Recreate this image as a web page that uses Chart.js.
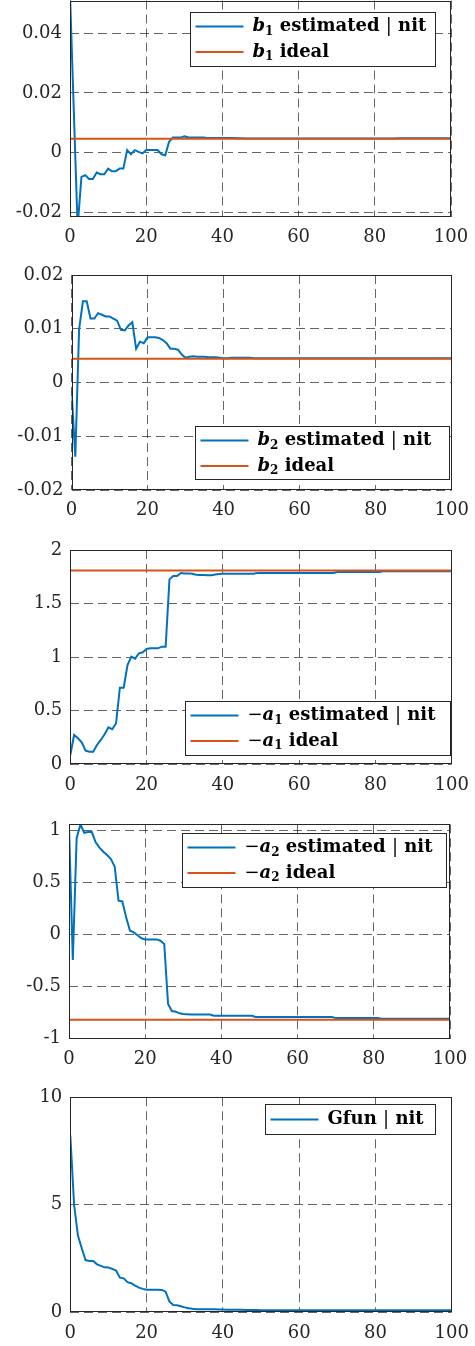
<!DOCTYPE html>
<html>
<head>
<meta charset="utf-8">
<script src="https://cdn.jsdelivr.net/npm/chart.js@4"></script>
<style>
  html, body { margin: 0; padding: 0; background: #fff; overflow: hidden; }
  #page { position: relative; width: 475px; height: 1346px; overflow: hidden; background: #fff; }
  #page canvas { position: absolute; left: 0; }
</style>
</head>
<body>
<div id="page"></div>
<script>
// ---------- data (one value per iteration, nit = 0..100) ----------
const nitTicks = [0, 20, 40, 60, 80, 100];

const b1Est = [
  0.053, 0.014, -0.025, -0.0082, -0.0076, -0.0089, -0.0089, -0.0067, -0.0073, -0.0073,
  -0.0054, -0.0063, -0.0063, -0.0054, -0.0054, 0.0008, -0.0006, 0.0008, 0.0002, -0.0003,
  0.0008, 0.0008, 0.0008, 0.0008, -0.0006, -0.0009, 0.0036, 0.0050, 0.0050, 0.0050,
  0.0054, 0.0051, 0.0050, 0.0050, 0.0050, 0.0050, 0.0049, 0.0049, 0.0049, 0.0049,
  0.0049, 0.0049, 0.0049, 0.0049, 0.0048, 0.0048, 0.0047, 0.0047, 0.0047, 0.0047,
  0.0047, 0.0047, 0.0047, 0.0047, 0.0047, 0.0047, 0.0047, 0.0047, 0.0047, 0.0047,
  0.0047, 0.0047, 0.0047, 0.0047, 0.0047, 0.0047, 0.0047, 0.0047, 0.0047, 0.0047,
  0.0047, 0.0047, 0.0047, 0.0047, 0.0047, 0.0047, 0.0047, 0.0047, 0.0047, 0.0047,
  0.0047, 0.0047, 0.0047, 0.0047, 0.0047, 0.0047, 0.0048, 0.0048, 0.0048, 0.0048,
  0.0048, 0.0048, 0.0048, 0.0048, 0.0048, 0.0048, 0.0048, 0.0048, 0.0048, 0.0048,
  0.0048
];
const b1Ideal = 0.0046;
const b1Ticks = [-0.02, 0, 0.02, 0.04];
const b1Labels = ['b_1 estimated | nit', 'b_1 ideal'];

const b2Est = [
  -0.0013, -0.0138, 0.0099, 0.0151, 0.0151, 0.0119, 0.0119, 0.0129, 0.0126, 0.0123,
  0.0123, 0.0119, 0.0115, 0.0098, 0.0097, 0.0106, 0.0112, 0.0063, 0.0076, 0.0073,
  0.0084, 0.0084, 0.0084, 0.0083, 0.0079, 0.0073, 0.0063, 0.0063, 0.0061, 0.0052,
  0.0046, 0.0048, 0.0049, 0.0048, 0.0048, 0.0048, 0.0047, 0.0047, 0.0047, 0.0046,
  0.0045, 0.0045, 0.0046, 0.0046, 0.0046, 0.0046, 0.0046, 0.0046, 0.0045, 0.0045,
  0.0045, 0.0045, 0.0045, 0.0045, 0.0045, 0.0045, 0.0045, 0.0045, 0.0045, 0.0045,
  0.0045, 0.0045, 0.0045, 0.0045, 0.0045, 0.0045, 0.0045, 0.0045, 0.0045, 0.0045,
  0.0045, 0.0045, 0.0045, 0.0045, 0.0045, 0.0045, 0.0045, 0.0045, 0.0045, 0.0045,
  0.0045, 0.0045, 0.0045, 0.0045, 0.0045, 0.0045, 0.0045, 0.0045, 0.0045, 0.0045,
  0.0045, 0.0045, 0.0045, 0.0045, 0.0045, 0.0045, 0.0045, 0.0045, 0.0045, 0.0045,
  0.0045
];
const b2Ideal = 0.0044;
const b2Ticks = [-0.02, -0.01, 0, 0.01, 0.02];
const b2Labels = ['b_2 estimated | nit', 'b_2 ideal'];

const a1Est = [
  0.087, 0.274, 0.243, 0.205, 0.128, 0.118, 0.118, 0.180, 0.227, 0.280,
  0.345, 0.327, 0.383, 0.715, 0.715, 0.927, 1.005, 0.986, 1.036, 1.045,
  1.076, 1.082, 1.082, 1.082, 1.098, 1.098, 1.726, 1.757, 1.757, 1.785,
  1.780, 1.780, 1.779, 1.770, 1.766, 1.766, 1.765, 1.765, 1.772, 1.777,
  1.778, 1.778, 1.778, 1.778, 1.778, 1.778, 1.778, 1.778, 1.778, 1.786,
  1.786, 1.786, 1.786, 1.786, 1.786, 1.786, 1.786, 1.786, 1.786, 1.786,
  1.786, 1.786, 1.786, 1.786, 1.786, 1.786, 1.786, 1.786, 1.786, 1.786,
  1.795, 1.795, 1.795, 1.795, 1.795, 1.795, 1.795, 1.795, 1.795, 1.795,
  1.795, 1.795, 1.801, 1.801, 1.801, 1.801, 1.801, 1.801, 1.801, 1.801,
  1.801, 1.801, 1.801, 1.801, 1.801, 1.801, 1.801, 1.801, 1.801, 1.801,
  1.801
];
const a1Ideal = 1.809;
const a1Ticks = [0, 0.5, 1, 1.5, 2];
const a1Labels = ['−a_1 estimated | nit', '−a_1 ideal'];

const a2Est = [
  1.04, -0.244, 0.926, 1.06, 0.98, 0.987, 0.987, 0.888, 0.837, 0.798,
  0.766, 0.728, 0.654, 0.327, 0.320, 0.167, 0.038, 0.022, -0.006, -0.035,
  -0.045, -0.045, -0.045, -0.045, -0.058, -0.090, -0.667, -0.734, -0.740, -0.756,
  -0.763, -0.765, -0.768, -0.768, -0.768, -0.768, -0.768, -0.768, -0.780, -0.780,
  -0.780, -0.780, -0.780, -0.780, -0.780, -0.780, -0.780, -0.780, -0.780, -0.792,
  -0.792, -0.792, -0.792, -0.792, -0.792, -0.792, -0.792, -0.792, -0.792, -0.792,
  -0.792, -0.792, -0.792, -0.792, -0.792, -0.792, -0.792, -0.792, -0.792, -0.792,
  -0.802, -0.802, -0.802, -0.802, -0.802, -0.802, -0.802, -0.802, -0.802, -0.802,
  -0.802, -0.802, -0.807, -0.807, -0.807, -0.807, -0.807, -0.807, -0.807, -0.807,
  -0.807, -0.807, -0.807, -0.807, -0.807, -0.807, -0.807, -0.807, -0.807, -0.807,
  -0.807
];
const a2Ideal = -0.817;
const a2Ticks = [-1, -0.5, 0, 0.5, 1];
const a2Labels = ['−a_2 estimated | nit', '−a_2 ideal'];

const gfun = [
  8.22, 4.99, 3.57, 2.98, 2.43, 2.39, 2.39, 2.23, 2.16, 2.09,
  2.08, 2.02, 1.94, 1.61, 1.58, 1.40, 1.35, 1.24, 1.15, 1.09,
  1.05, 1.05, 1.05, 1.05, 1.04, 0.96, 0.50, 0.34, 0.33, 0.28,
  0.23, 0.19, 0.16, 0.14, 0.14, 0.14, 0.14, 0.14, 0.14, 0.13,
  0.13, 0.12, 0.12, 0.12, 0.12, 0.12, 0.11, 0.11, 0.11, 0.11,
  0.10, 0.10, 0.10, 0.10, 0.10, 0.10, 0.10, 0.10, 0.10, 0.10,
  0.10, 0.10, 0.10, 0.10, 0.10, 0.10, 0.10, 0.10, 0.10, 0.10,
  0.10, 0.10, 0.10, 0.10, 0.10, 0.10, 0.10, 0.10, 0.10, 0.10,
  0.10, 0.10, 0.10, 0.10, 0.10, 0.10, 0.10, 0.10, 0.10, 0.10,
  0.10, 0.10, 0.10, 0.10, 0.10, 0.10, 0.10, 0.10, 0.10, 0.10,
  0.10
];
const gTicks = [0, 5, 10];
const gLabels = ['Gfun | nit'];

// ---------- style ----------
const BLUE = '#0072BD';
const ORANGE = '#D95319';
const AXIS = '#262626';
const GRID = 'rgba(0,0,0,0.6)';
const FONT = '"DejaVu Serif"';
const CANVAS_W = 540;   // wider than the page so tick labels never squeeze the plot box

// plot box [left, right, top, bottom] in page px, legend box [x, y, w, h] relative to plot box
const panels = [
  { est: b1Est, ideal: b1Ideal, ticks: b1Ticks, labels: b1Labels, ymin: -0.02154, ymax: 0.0510,
    box: [70, 451, 0.5, 216.7], legend: [120, 11, 245, 54] },
  { est: b2Est, ideal: b2Ideal, ticks: b2Ticks, labels: b2Labels, ymin: -0.02, ymax: 0.02,
    box: [71.5, 451.7, 275, 490], legend: [123, 151, 254, 53] },
  { est: a1Est, ideal: a1Ideal, ticks: a1Ticks, labels: a1Labels, ymin: 0, ymax: 2,
    box: [70.3, 451.7, 550, 764.3], legend: [115, 151, 265, 53.5] },
  { est: a2Est, ideal: a2Ideal, ticks: a2Ticks, labels: a2Labels, ymin: -1, ymax: 1.0615,
    box: [69, 450, 824.3, 1038.7], legend: [113, 8.5, 264, 54] },
  { est: gfun, ideal: null, ticks: gTicks, labels: gLabels, ymin: 0, ymax: 10,
    box: [70.3, 451.7, 1097.3, 1312.3], legend: [195, 7, 169.5, 30] }
];

// ---------- legend text: "b_1" -> bold italic b with subscript 1 ----------
function richParts(label) {
  const parts = [];
  const push = (t, font, dy) => {
    const last = parts[parts.length - 1];
    if (last && last.font === font && last.dy === dy) last.t += t;
    else parts.push({ t, font, dy });
  };
  for (let i = 0; i < label.length; i++) {
    const c = label[i];
    if (label[i + 1] === '_') {
      push(c, 'italic bold 18px ' + FONT, 0);
      push(label[i + 2], 'bold 12px ' + FONT, 5);
      i += 2;
    } else if (c === '−' || c === '|') {
      push(c, '18px ' + FONT, 0);
    } else {
      push(c, 'bold 18px ' + FONT, 0);
    }
  }
  return parts;
}

function drawRich(ctx, label, x, cy) {
  ctx.textBaseline = 'middle';
  ctx.textAlign = 'left';
  ctx.fillStyle = '#000';
  richParts(label).forEach(p => {
    ctx.font = p.font;
    ctx.fillText(p.t, x, cy + p.dy);
    x += ctx.measureText(p.t).width;
  });
}

function drawFrameAndLegend(chart, p) {
  const { ctx, chartArea: a } = chart;
  ctx.save();
  // box around the axes
  ctx.strokeStyle = AXIS;
  ctx.lineWidth = 1;
  ctx.strokeRect(Math.round(a.left) + 0.5, Math.round(a.top) + 0.5,
    Math.round(a.right) - Math.round(a.left) - 1, Math.round(a.bottom) - Math.round(a.top) - 1);

  // legend
  const [lx, ly, lw, lh] = p.legend;
  const x = Math.round(a.left + lx) + 0.5;
  const y = Math.round(a.top + ly) + 0.5;
  ctx.fillStyle = '#fff';
  ctx.fillRect(x, y, Math.round(lw), Math.round(lh));
  ctx.strokeStyle = AXIS;
  ctx.strokeRect(x, y, Math.round(lw), Math.round(lh));
  const rows = chart.data.datasets;
  rows.forEach((ds, i) => {
    const cy = rows.length === 1 ? y + lh / 2 : y + 14 + i * 25.5;
    ctx.strokeStyle = ds.borderColor;
    ctx.lineWidth = 2;
    ctx.beginPath();
    ctx.moveTo(x + 5, cy);
    ctx.lineTo(x + 53, cy);
    ctx.stroke();
    drawRich(ctx, ds.label, x + 62, cy);
  });
  ctx.restore();
}

// ---------- build the charts ----------
const page = document.getElementById('page');

panels.forEach(p => {
  const [L, R, T, B] = p.box;
  const top = Math.floor(T) - 26;
  const padTop = T - top;
  const height = Math.ceil(B - top + 30);
  const axisH = height - (B - top);

  const cv = document.createElement('canvas');
  cv.width = CANVAS_W;
  cv.height = height;
  cv.style.top = top + 'px';
  cv.style.width = CANVAS_W + 'px';
  cv.style.height = height + 'px';
  page.appendChild(cv);

  const datasets = [{
    label: p.labels[0],
    data: p.est.map((v, i) => ({ x: i, y: v })),
    borderColor: BLUE,
    borderWidth: 2,
    pointRadius: 0,
    tension: 0,
    order: 2,
    clip: 0
  }];
  if (p.ideal !== null) {
    datasets.push({
      label: p.labels[1],
      data: p.est.map((_, i) => ({ x: i, y: p.ideal })),
      borderColor: ORANGE,
      borderWidth: 2,
      pointRadius: 0,
      tension: 0,
      order: 1,
      clip: 0
    });
  }

  new Chart(cv.getContext('2d'), {
    type: 'line',
    data: { datasets },
    options: {
      responsive: false,
      animation: false,
      devicePixelRatio: 1,
      layout: { padding: { top: padTop, right: CANVAS_W - R, left: 0, bottom: 0 } },
      plugins: { legend: { display: false }, tooltip: { enabled: false } },
      scales: {
        x: {
          type: 'linear',
          min: nitTicks[0],
          max: nitTicks[nitTicks.length - 1],
          afterBuildTicks: s => { s.ticks = nitTicks.map(v => ({ value: v })); },
          afterFit: s => { s.height = axisH; },
          grid: { color: GRID, lineWidth: 1, drawTicks: false },
          border: { display: false, dash: [9, 5] },
          ticks: { color: AXIS, font: { family: 'DejaVu Serif', size: 18 }, padding: 10,
                   autoSkip: false, maxRotation: 0, callback: v => String(v) }
        },
        y: {
          type: 'linear',
          min: p.ymin,
          max: p.ymax,
          afterBuildTicks: s => { s.ticks = p.ticks.map(v => ({ value: v })); },
          afterFit: s => { s.width = L; },
          grid: { color: GRID, lineWidth: 1, drawTicks: false },
          border: { display: false, dash: [9, 5] },
          ticks: { color: AXIS, font: { family: 'DejaVu Serif', size: 18 }, padding: 8,
                   autoSkip: false, callback: v => String(v) }
        }
      }
    },
    plugins: [{ id: 'frameLegend', afterDatasetsDraw: chart => drawFrameAndLegend(chart, p) }]
  });
});
</script>
</body>
</html>
